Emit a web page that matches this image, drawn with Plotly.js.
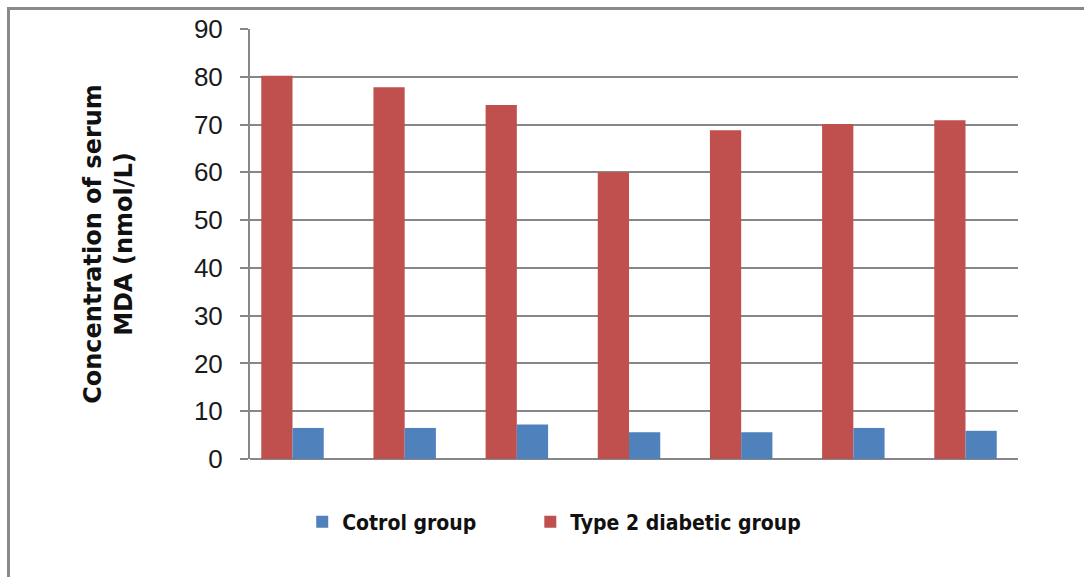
<!DOCTYPE html>
<html>
<head>
<meta charset="utf-8">
<script src="https://cdn.plot.ly/plotly-3.0.1.min.js"></script>
<style>
  html, body { margin: 0; padding: 0; background: #ffffff; }
  #wrap { position: relative; width: 1084px; height: 577px; overflow: hidden; }
  #chart { position: absolute; left: 0; top: 0; width: 1084px; height: 577px; }
  #frame { position: absolute; left: 7px; top: 7px; width: 1100px; height: 600px;
           border-top: 3px solid #8a8a8a; border-left: 3px solid #8a8a8a; pointer-events: none; }
</style>
</head>
<body>
<div id="wrap">
  <div id="chart"></div>
  <div id="frame"></div>
</div>
<script>
// Data
const categories = ['1', '2', '3', '4', '5', '6', '7'];
const controlGroup = [6.5, 6.5, 7.2, 5.6, 5.6, 6.5, 5.9];
const diabeticGroup = [80.2, 77.8, 74.1, 60.0, 68.8, 70.1, 70.9];
const seriesNames = ['Cotrol group', 'Type 2 diabetic group'];
const yTitle = 'Concentration of serum<br>MDA (nmol/L)';

const legendFont = { family: '"DejaVu Sans Condensed", "DejaVu Sans", sans-serif', size: 21, color: '#111111', weight: 'bold' };

const traces = [
  {
    type: 'bar', name: seriesNames[1], x: categories, y: diabeticGroup,
    marker: { color: '#C0504D' }, hoverinfo: 'y', legend: 'legend2'
  },
  {
    type: 'bar', name: seriesNames[0], x: categories, y: controlGroup,
    marker: { color: '#4F81BD' }, hoverinfo: 'y', legend: 'legend'
  }
];

const gridCol = '#878787';

const layout = {
  width: 1084, height: 577,
  paper_bgcolor: 'rgba(0,0,0,0)', plot_bgcolor: '#ffffff',
  margin: { l: 250, r: 66, t: 29, b: 118 },
  barmode: 'group', bargap: 0.443, bargroupgap: 0,
  showlegend: true,
  legend: {
    orientation: 'h', x: 0.068, xanchor: 'left', y: -0.147, yanchor: 'middle',
    font: legendFont, bgcolor: 'rgba(0,0,0,0)'
  },
  legend2: {
    orientation: 'h', x: 0.365, xanchor: 'left', y: -0.147, yanchor: 'middle',
    font: legendFont, bgcolor: 'rgba(0,0,0,0)'
  },
  xaxis: {
    type: 'category', range: [-0.379, 6.468], showticklabels: false, ticks: '', showgrid: false,
    showline: false, zeroline: false, fixedrange: true
  },
  yaxis: {
    range: [0, 90], dtick: 10, tick0: 0,
    showgrid: true, gridcolor: gridCol, gridwidth: 2,
    zeroline: true, zerolinecolor: gridCol, zerolinewidth: 2,
    showline: true, linecolor: gridCol, linewidth: 2,
    ticks: 'outside', ticklen: 8, tickwidth: 2, tickcolor: gridCol,
    ticklabelstandoff: 12,
    tickfont: { family: '"Liberation Sans", sans-serif', size: 26, color: '#1a1a1a' },
    title: {
      text: yTitle, standoff: 54,
      font: { family: '"DejaVu Sans", sans-serif', size: 24, color: '#111111', weight: 'bold' }
    },
    automargin: false, fixedrange: true
  }
};

Plotly.newPlot('chart', traces, layout, { displayModeBar: false, staticPlot: true });
</script>
</body>
</html>
